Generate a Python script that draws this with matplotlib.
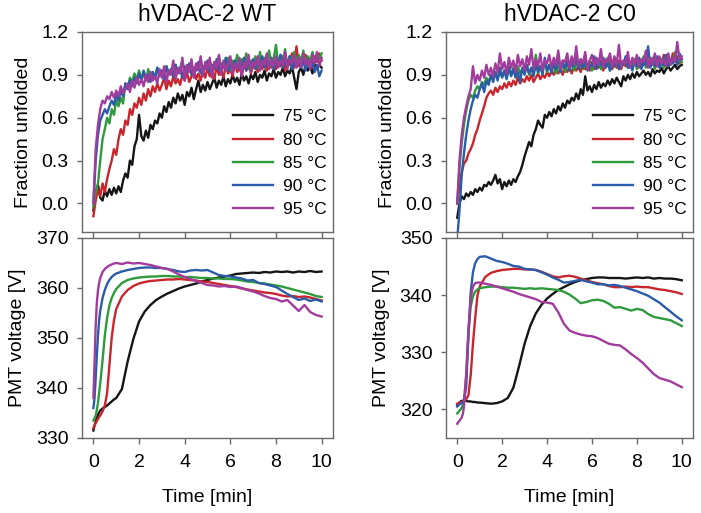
import numpy as np
import matplotlib
matplotlib.use("Agg")
import matplotlib.pyplot as plt

plt.rcParams['font.family'] = ['Liberation Sans', 'DejaVu Sans']

titles = ["hVDAC-2 WT", "hVDAC-2 C0"]
temps = ["75 °C", "80 °C", "85 °C", "90 °C", "95 °C"]
colors = ["#151515", "#c8262c", "#2f9a3c", "#2b5ca8", "#a23c9c"]

# time axis (minutes)
t_frac = np.round(np.arange(0, 101) * 0.1, 1)
t_pmt = [0, 0.05, 0.1, 0.15, 0.2, 0.25, 0.3, 0.4, 0.5, 0.6, 0.7, 0.8, 0.9, 1.0,
         1.25, 1.5, 1.75, 2.0, 2.25, 2.5, 2.75, 3.0, 3.25, 3.5, 3.75, 4.0, 4.25,
         4.5, 4.75, 5.0, 5.25, 5.5, 5.75, 6.0, 6.25, 6.5, 6.75, 7.0, 7.25, 7.5,
         7.75, 8.0, 8.25, 8.5, 8.75, 9.0, 9.25, 9.5, 9.75, 10.0]

# ---- Fraction unfolded, WT ----
wt_frac_75 = [-0.05, 0.08, 0.13, 0.04, 0.02, 0.09, 0.05, 0.10, 0.06, 0.11,
              0.07, 0.12, 0.08, 0.16, 0.21, 0.18, 0.30, 0.27, 0.40, 0.45,
              0.62, 0.47, 0.44, 0.51, 0.46, 0.55, 0.52, 0.58, 0.56, 0.63,
              0.60, 0.68, 0.64, 0.71, 0.67, 0.74, 0.70, 0.77, 0.72, 0.76,
              0.69, 0.78, 0.75, 0.81, 0.73, 0.80, 0.86, 0.78, 0.83, 0.79,
              0.85, 0.80, 0.84, 0.88, 0.81, 0.86, 0.83, 0.89, 0.82, 0.87,
              0.84, 0.90, 0.85, 0.88, 0.83, 0.91, 0.86, 0.89, 0.84, 0.90,
              0.87, 0.92, 0.85, 0.90, 0.88, 0.93, 0.86, 0.91, 0.89, 0.94,
              0.88, 0.92, 0.90, 0.95, 0.89, 0.93, 0.91, 0.96, 0.88, 0.80,
              0.92, 0.95, 0.90, 0.97, 0.93, 0.96, 0.91, 0.98, 0.94, 0.97,
              0.95]
wt_frac_80 = [-0.09, 0.02, 0.10, 0.05, 0.14, 0.08, 0.17, 0.24, 0.30, 0.38,
              0.34, 0.45, 0.52, 0.48, 0.58, 0.55, 0.66, 0.62, 0.70, 0.67,
              0.74, 0.69, 0.77, 0.72, 0.80, 0.75, 0.82, 0.78, 0.84, 0.79,
              0.83, 0.88, 0.80, 0.86, 0.82, 0.89, 0.84, 0.87, 0.83, 0.90,
              0.86, 0.92, 0.85, 0.89, 0.94, 0.87, 0.91, 0.86, 0.93, 0.88,
              0.95, 0.89, 0.92, 0.87, 0.96, 0.90, 0.93, 0.88, 0.97, 0.91,
              0.94, 0.89, 0.98, 0.92, 0.95, 0.90, 0.97, 0.93, 0.99, 0.91,
              0.96, 1.00, 0.92, 0.97, 0.94, 1.01, 0.93, 0.98, 0.95, 1.02,
              0.94, 0.99, 0.96, 1.03, 0.93, 1.00, 0.97, 1.05, 0.95, 1.10,
              0.96, 1.02, 0.98, 1.04, 0.97, 1.01, 0.95, 1.03, 0.99, 1.05,
              1.00]
wt_frac_85 = [-0.02, 0.08, 0.14, 0.30, 0.45, 0.52, 0.60, 0.56, 0.66, 0.62,
              0.72, 0.68, 0.74, 0.70, 0.84, 0.80, 0.88, 0.85, 0.91, 0.87,
              0.93, 0.88, 0.90, 0.86, 0.94, 0.89, 0.92, 0.87, 0.95, 0.90,
              0.93, 0.88, 0.96, 0.91, 0.94, 0.89, 0.97, 0.92, 0.95, 1.00,
              0.91, 0.96, 0.93, 0.98, 0.90, 0.97, 0.94, 1.01, 0.92, 0.98,
              0.95, 1.00, 0.93, 0.99, 0.96, 1.03, 0.94, 0.99, 0.97, 1.02,
              0.93, 1.00, 0.96, 1.04, 0.95, 1.01, 0.97, 1.05, 0.94, 1.00,
              0.98, 1.03, 0.95, 1.06, 0.97, 1.02, 0.99, 1.07, 0.96, 1.01,
              1.11, 0.97, 1.04, 0.98, 1.08, 0.96, 1.03, 1.00, 1.06, 0.98,
              1.04, 0.99, 1.07, 0.97, 1.03, 1.00, 1.06, 0.98, 1.05, 1.01,
              1.05]
wt_frac_90 = [0.00, 0.30, 0.48, 0.58, 0.62, 0.66, 0.63, 0.68, 0.72, 0.69,
              0.76, 0.72, 0.79, 0.75, 0.84, 0.80, 0.86, 0.82, 0.88, 0.84,
              0.91, 0.86, 0.93, 0.88, 0.90, 0.85, 0.92, 0.88, 0.95, 0.89,
              0.93, 0.87, 0.96, 0.90, 0.94, 0.89, 0.97, 0.91, 0.95, 0.88,
              0.96, 0.92, 0.98, 0.90, 0.95, 0.93, 0.99, 0.91, 0.96, 0.94,
              1.00, 0.92, 0.97, 0.94, 1.01, 0.93, 0.98, 0.95, 1.02, 0.93,
              0.97, 0.95, 1.00, 0.94, 0.98, 0.96, 1.02, 0.93, 0.99, 0.96,
              1.01, 0.94, 0.99, 0.97, 1.03, 0.95, 1.00, 0.96, 1.02, 0.94,
              0.99, 0.96, 1.04, 0.95, 1.00, 0.97, 1.03, 0.94, 0.99, 0.96,
              1.02, 0.95, 1.00, 0.93, 1.01, 0.96, 0.99, 0.92, 0.97, 0.89,
              0.93]
wt_frac_95 = [0.00, 0.38, 0.55, 0.66, 0.72, 0.70, 0.75, 0.73, 0.78, 0.74,
              0.79, 0.75, 0.82, 0.77, 0.80, 0.84, 0.78, 0.86, 0.81, 0.88,
              0.83, 0.87, 0.82, 0.90, 0.85, 0.92, 0.86, 0.89, 0.84, 0.94,
              0.88, 0.96, 0.85, 0.93, 0.90, 1.00, 0.87, 0.95, 0.91, 1.02,
              0.86, 0.97, 0.92, 1.01, 0.88, 0.98, 0.93, 1.03, 0.89, 0.99,
              0.94, 1.02, 0.88, 0.99, 0.95, 1.04, 0.90, 1.00, 0.93, 0.97,
              1.03, 0.91, 0.98, 0.94, 1.02, 0.89, 0.99, 0.95, 1.04, 0.92,
              0.99, 0.96, 1.03, 0.93, 1.00, 0.97, 1.05, 0.94, 1.01, 0.96,
              1.03, 0.95, 1.00, 0.97, 1.06, 0.94, 1.01, 0.98, 1.04, 0.95,
              1.02, 0.96, 1.05, 0.97, 1.01, 0.94, 1.04, 0.98, 1.06, 0.96,
              1.02]

# ---- Fraction unfolded, C0 ----
c0_frac_75 = [-0.10, 0.00, 0.05, 0.03, 0.07, 0.05, 0.08, 0.06, 0.10, 0.08,
              0.11, 0.09, 0.13, 0.12, 0.15, 0.13, 0.16, 0.20, 0.14, 0.17,
              0.10, 0.15, 0.12, 0.16, 0.13, 0.17, 0.15, 0.19, 0.22, 0.27,
              0.33, 0.38, 0.43, 0.40, 0.48, 0.52, 0.58, 0.55, 0.53, 0.62,
              0.60, 0.64, 0.61, 0.66, 0.63, 0.68, 0.65, 0.70, 0.67, 0.72,
              0.70, 0.74, 0.72, 0.77, 0.73, 0.80, 0.76, 0.89, 0.79, 0.82,
              0.78, 0.83, 0.80, 0.85, 0.81, 0.84, 0.82, 0.86, 0.83, 0.87,
              0.84, 0.88, 0.85, 0.82, 0.89, 0.86, 0.90, 0.87, 0.91, 0.88,
              0.92, 0.89, 0.91, 0.93, 0.90, 0.92, 0.89, 0.94, 0.91, 0.93,
              0.92, 0.95, 0.91, 0.94, 0.96, 0.93, 0.95, 0.97, 0.94, 0.96,
              0.97]
c0_frac_80 = [0.00, 0.12, 0.22, 0.28, 0.30, 0.35, 0.38, 0.42, 0.48, 0.52,
              0.58, 0.63, 0.68, 0.74, 0.77, 0.79, 0.76, 0.81, 0.78, 0.82,
              0.80, 0.84, 0.81, 0.85, 0.82, 0.86, 0.83, 0.88, 0.84, 0.87,
              0.85, 0.89, 0.86, 0.90, 0.85, 0.88, 0.91, 0.87, 0.90, 0.88,
              0.92, 0.89, 0.93, 0.90, 0.95, 0.91, 0.94, 0.90, 0.96, 0.92,
              0.95, 0.91, 0.97, 0.93, 0.96, 0.92, 0.98, 0.94, 0.97, 0.93,
              0.99, 0.94, 0.97, 0.95, 1.00, 0.93, 0.98, 0.96, 1.01, 0.94,
              0.98, 0.95, 1.00, 0.94, 0.99, 0.96, 1.02, 0.95, 0.99, 0.97,
              1.01, 0.95, 1.00, 0.97, 1.03, 0.96, 1.00, 0.98, 1.02, 0.96,
              1.01, 0.97, 1.04, 0.98, 1.02, 0.97, 1.05, 0.99, 1.03, 0.98,
              1.01]
c0_frac_85 = [0.00, 0.25, 0.42, 0.55, 0.65, 0.72, 0.76, 0.74, 0.79, 0.82,
              0.80, 0.85, 0.83, 0.88, 0.85, 0.90, 0.87, 0.92, 0.88, 0.91,
              0.89, 0.93, 0.88, 0.94, 0.90, 0.95, 0.89, 0.96, 0.91, 0.94,
              0.92, 0.97, 0.90, 0.95, 0.93, 1.04, 0.91, 0.96, 0.94, 0.99,
              0.92, 0.97, 0.93, 0.98, 0.91, 0.96, 0.94, 1.00, 0.92, 0.97,
              0.95, 0.99, 0.93, 0.98, 0.96, 1.01, 0.94, 0.97, 0.95, 1.00,
              0.93, 0.98, 0.96, 1.01, 0.94, 0.99, 0.95, 1.02, 0.93, 0.98,
              0.96, 1.00, 0.94, 0.99, 0.97, 1.02, 0.95, 0.98, 0.96, 1.01,
              0.94, 0.99, 0.97, 1.03, 0.95, 1.00, 0.96, 1.02, 0.94, 0.99,
              0.97, 1.01, 0.95, 1.03, 0.96, 1.00, 0.98, 1.06, 0.97, 1.00,
              0.99]
c0_frac_90 = [-0.25, -0.05, 0.20, 0.35, 0.48, 0.58, 0.66, 0.72, 0.76, 0.74,
              0.80, 0.84, 0.78, 0.86, 0.83, 0.90, 0.85, 0.92, 0.86, 0.95,
              0.88, 0.93, 0.87, 0.96, 0.89, 0.94, 0.88, 0.92, 0.85, 0.95,
              0.90, 0.97, 0.91, 0.95, 0.89, 0.98, 0.92, 0.96, 0.90, 1.02,
              0.93, 0.97, 0.91, 0.99, 0.94, 1.03, 0.92, 0.98, 0.95, 1.00,
              0.93, 0.99, 0.96, 1.02, 0.94, 0.98, 0.95, 1.01, 0.93, 0.97,
              0.96, 1.03, 0.94, 0.99, 0.97, 1.02, 0.95, 1.00, 0.93, 0.98,
              0.96, 1.01, 0.94, 0.99, 0.97, 1.03, 0.95, 0.98, 0.93, 1.00,
              0.96, 1.02, 0.94, 0.99, 0.97, 1.10, 0.95, 1.00, 0.96, 1.03,
              0.95, 0.99, 0.97, 1.04, 0.96, 1.01, 0.98, 1.03, 0.97, 1.05,
              1.01]
c0_frac_95 = [0.00, 0.30, 0.48, 0.60, 0.68, 0.75, 0.80, 0.96, 0.84, 0.90,
              0.86, 0.93, 0.88, 0.97, 0.90, 0.95, 0.89, 0.98, 0.92, 1.05,
              0.94, 0.99, 0.91, 1.02, 0.95, 1.00, 0.92, 1.04, 0.96, 1.01,
              0.93, 1.03, 0.97, 1.08, 0.94, 1.01, 0.96, 1.05, 0.93, 1.00,
              0.98, 1.04, 0.95, 1.02, 0.97, 1.07, 0.94, 1.00, 0.99, 1.05,
              0.95, 1.03, 0.97, 1.10, 0.96, 1.01, 0.98, 1.06, 0.94, 1.00,
              1.04, 0.96, 1.02, 0.97, 1.08, 0.95, 1.01, 0.99, 1.05, 0.96,
              1.03, 0.97, 1.11, 0.96, 1.00, 0.98, 1.06, 0.95, 1.02, 0.97,
              1.04, 0.96, 1.01, 0.99, 1.07, 0.95, 1.02, 0.97, 1.05, 0.96,
              1.03, 0.98, 1.01, 0.96, 1.05, 0.97, 1.02, 0.99, 1.13, 1.00,
              1.03]

# ---- PMT voltage, WT ----
wt_pmt_75 = [331.5, 332.5, 333.3, 334.0, 334.6, 335.1, 335.5, 335.9, 336.2, 336.5,
             336.9, 337.3, 337.7, 338.0, 339.8, 345.3, 349.8, 353.3, 355.3, 356.6,
             357.6, 358.3, 358.9, 359.4, 359.9, 360.3, 360.6, 360.9, 361.3, 361.6,
             361.9, 362.1, 362.3, 362.5, 362.8, 362.9, 363.0, 363.1, 363.0, 363.2,
             363.1, 363.3, 363.2, 363.3, 363.1, 363.3, 363.2, 363.4, 363.2, 363.3]
wt_pmt_80 = [332.0, 332.5, 333.0, 333.4, 333.8, 334.2, 334.5, 335.3, 336.5, 339.0,
             344.5, 350.0, 353.5, 355.8, 358.3, 359.6, 360.4, 360.9, 361.2, 361.4,
             361.5, 361.6, 361.7, 361.7, 361.8, 361.7, 361.6, 361.5, 361.3, 361.2,
             361.0, 360.8, 360.6, 360.4, 360.2, 359.9, 359.7, 359.5, 359.3, 359.1,
             359.0, 358.8, 358.5, 358.3, 358.4, 358.2, 358.3, 358.1, 357.8, 357.5]
wt_pmt_85 = [333.5, 334.0, 334.5, 335.6, 337.0, 339.0, 341.0, 345.5, 350.5, 354.0,
             356.5, 358.0, 359.0, 359.8, 361.0, 361.6, 361.9, 362.1, 362.2, 362.3,
             362.3, 362.4, 362.4, 362.3, 362.3, 362.2, 362.2, 362.1, 362.0, 362.0,
             361.9, 361.9, 361.8, 361.8, 361.7, 361.5, 361.3, 361.2, 361.0, 360.9,
             360.7, 360.5, 360.3, 360.0, 359.7, 359.4, 359.1, 358.8, 358.4, 358.2]
wt_pmt_90 = [336.0, 338.0, 342.0, 346.5, 350.5, 353.5, 355.5, 358.0, 359.6, 360.8,
             361.6, 362.2, 362.6, 362.9, 363.3, 363.6, 363.8, 364.0, 364.1, 364.1,
             364.0, 364.0, 363.8, 363.6, 363.3, 363.2, 363.5, 363.6, 363.5, 363.6,
             363.1, 362.6, 362.4, 362.3, 362.1, 361.9, 361.5, 361.6, 361.0, 360.8,
             360.5, 360.2, 359.5, 358.8, 358.2, 357.6, 357.9, 357.4, 357.7, 357.3]
wt_pmt_95 = [338.0, 345.0, 352.5, 357.0, 359.5, 361.0, 362.0, 363.2, 363.8, 364.2,
             364.5, 364.7, 364.9, 365.0, 364.8, 365.1, 364.9, 365.0, 364.8, 364.6,
             364.3, 364.0, 363.8, 363.3, 362.7, 362.2, 361.8, 361.4, 361.0, 360.6,
             360.5, 360.3, 360.4, 360.2, 360.3, 360.0, 359.6, 359.3, 358.9, 358.4,
             358.0, 357.8, 357.3, 357.6, 356.5, 355.4, 356.6, 355.2, 354.6, 354.3]

# ---- PMT voltage, C0 ----
c0_pmt_75 = [320.8, 321.0, 321.2, 321.4, 321.5, 321.5, 321.6, 321.5, 321.4, 321.4,
             321.3, 321.3, 321.2, 321.2, 321.1, 321.0, 321.1, 321.4, 322.0, 323.8,
             327.5, 331.5, 334.6, 336.8, 338.3, 339.4, 340.2, 340.9, 341.4, 341.9,
             342.3, 342.6, 342.8, 343.0, 343.1, 343.1, 343.0, 343.0, 343.0, 342.9,
             343.0, 343.1, 343.0, 343.1, 342.9, 343.0, 342.9, 342.9, 342.8, 342.6]
c0_pmt_80 = [321.0, 321.1, 321.2, 321.3, 321.3, 321.4, 321.5, 321.8, 322.5, 326.0,
             331.5, 336.0, 339.9, 341.5, 343.2, 343.9, 344.2, 344.4, 344.5, 344.6,
             344.6, 344.5, 344.5, 344.4, 344.1, 343.7, 343.3, 343.1, 343.3, 343.4,
             343.2, 342.9, 342.6, 342.3, 342.1, 341.9, 341.6, 341.4, 341.4, 341.5,
             341.4, 341.5, 341.4, 341.4, 341.2, 341.0, 340.9, 340.7, 340.5, 340.2]
c0_pmt_85 = [319.3, 319.5, 319.8, 320.0, 320.3, 320.8, 321.5, 326.0, 333.5, 338.0,
             339.8, 340.6, 341.0, 341.2, 341.4, 341.5, 341.5, 341.4, 341.3, 341.3,
             341.2, 341.1, 341.2, 341.1, 341.2, 341.1, 341.0, 340.9, 340.6, 340.1,
             339.4, 338.6, 338.8, 339.1, 339.2, 339.0, 338.5, 337.8, 337.9, 337.6,
             337.3, 337.6, 337.4, 336.7, 336.2, 336.0, 335.8, 335.6, 335.1, 334.6]
c0_pmt_90 = [320.5, 320.7, 320.9, 321.0, 321.1, 321.3, 321.6, 324.0, 333.0, 340.5,
             344.0, 345.6, 346.3, 346.7, 346.8, 346.4, 346.0, 345.8, 345.5, 345.1,
             345.0, 344.6, 344.5, 344.4, 344.0, 343.6, 343.1, 342.7, 342.2, 342.3,
             342.5, 342.7, 342.4, 342.2, 341.9, 341.9, 341.7, 341.8, 341.6, 341.3,
             341.0, 340.7, 340.3, 339.9, 339.3, 338.7, 337.9, 337.1, 336.3, 335.6]
c0_pmt_95 = [317.5, 317.8, 318.0, 318.3, 318.6, 319.2, 320.5, 326.0, 334.0, 339.5,
             341.5, 342.1, 342.2, 342.2, 342.0, 341.8, 341.5, 341.2, 340.9, 340.6,
             340.2, 339.9, 339.6, 339.3, 338.8, 338.7, 338.5, 337.0, 335.0, 333.8,
             333.4, 333.1, 332.9, 332.8, 332.5, 332.0, 331.5, 331.3, 331.2, 330.5,
             329.7, 329.0, 328.2, 327.2, 326.2, 325.5, 325.2, 324.9, 324.4, 323.9]

frac_sets = [[wt_frac_75, wt_frac_80, wt_frac_85, wt_frac_90, wt_frac_95],
             [c0_frac_75, c0_frac_80, c0_frac_85, c0_frac_90, c0_frac_95]]
pmt_sets = [[wt_pmt_75, wt_pmt_80, wt_pmt_85, wt_pmt_90, wt_pmt_95],
            [c0_pmt_75, c0_pmt_80, c0_pmt_85, c0_pmt_90, c0_pmt_95]]
pmt_ylims = [(330, 370), (315, 350)]
pmt_yticks = [[330, 340, 350, 360, 370], [320, 330, 340, 350]]
frac_yticks = [0.0, 0.3, 0.6, 0.9, 1.2]
xticks = [0, 2, 4, 6, 8, 10]

W, H = 701, 513
fig = plt.figure(figsize=(W / 100, H / 100), dpi=100)

spine_col = "#6a6a6a"
FS = 14

def style(ax):
    for s in ax.spines.values():
        s.set_color(spine_col)
        s.set_linewidth(1.0)
    ax.tick_params(direction='out', width=1.0, color=spine_col,
                   labelsize=FS, top=False, right=False)
    ax.tick_params(axis='x', length=4.5, pad=7)
    ax.tick_params(axis='y', length=3.8, pad=6)

lefts = [82, 446]
widths = [251, 247]
for col in range(2):
    x0 = lefts[col] / W
    w = widths[col] / W
    ax1 = fig.add_axes([x0, 1 - 232 / H, w, 200 / H])
    ax2 = fig.add_axes([x0, 1 - 438 / H, w, 200 / H])

    lines = []
    for i in range(5):
        ln, = ax1.plot(t_frac, frac_sets[col][i], color=colors[i], lw=1.7,
                       label=temps[i])
        lines.append(ln)
    for i in range(5):
        ax2.plot(t_pmt, pmt_sets[col][i], color=colors[i], lw=1.7)

    for ax in (ax1, ax2):
        ax.set_xlim(-0.5, 10.5)
        ax.set_xticks(xticks)
        style(ax)
    ax1.set_ylim(-0.2, 1.2)
    ax1.set_yticks(frac_yticks)
    ax1.set_yticklabels([f"{v:.1f}" for v in frac_yticks])
    ax1.tick_params(axis='x', labelbottom=False)
    ax1.set_ylabel("Fraction unfolded", fontsize=FS, labelpad=7)
    ax1.set_title(titles[col], fontsize=16.5, pad=8)

    ax2.set_ylim(*pmt_ylims[col])
    ax2.set_yticks(pmt_yticks[col])
    ax2.set_ylabel("PMT voltage [V]", fontsize=FS, labelpad=7)
    ax2.set_xlabel("Time [min]", fontsize=FS, labelpad=13)

    ax1.legend(handles=lines, loc='lower right', bbox_to_anchor=(0.975, 0.075),
               frameon=False, fontsize=12.5, handlelength=2.3, handletextpad=0.6,
               labelspacing=0.46, borderpad=0, borderaxespad=0)

fig.savefig("out.png", dpi=100)
